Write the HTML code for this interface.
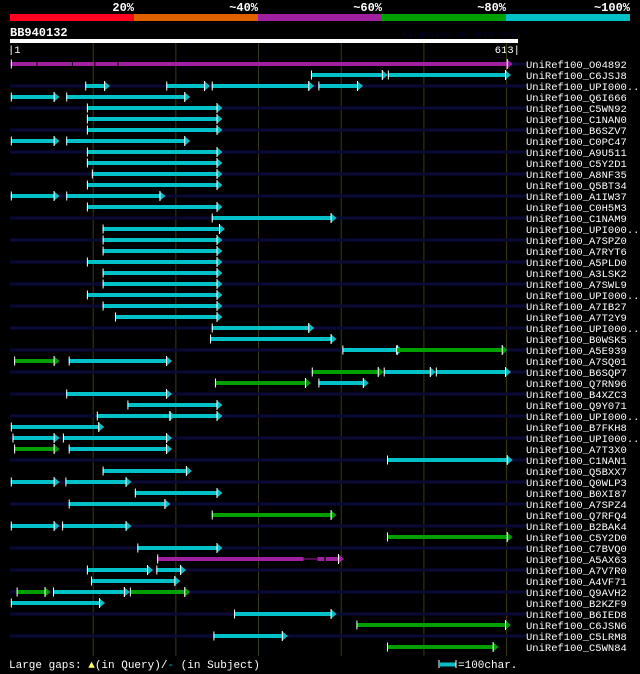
<!DOCTYPE html>
<html><head><meta charset="utf-8"><style>
html,body{margin:0;padding:0;background:#000;}
svg{display:block;}
text{font-family:"Liberation Mono",monospace;}
</style></head><body>
<svg id="chart" width="640" height="674" viewBox="0 0 640 674" xmlns="http://www.w3.org/2000/svg">
<g>
<rect x="10" y="14" width="124" height="7" fill="#ff0020"/>
<rect x="134" y="14" width="124" height="7" fill="#e06000"/>
<rect x="258" y="14" width="124" height="7" fill="#a020a0"/>
<rect x="382" y="14" width="124" height="7" fill="#00a000"/>
<rect x="506" y="14" width="124" height="7" fill="#00c0c8"/>
<g font-size="12" font-weight="bold" fill="#fff" text-anchor="end">
<text x="134" y="11">20%</text>
<text x="258" y="11">~40%</text>
<text x="382" y="11">~60%</text>
<text x="506" y="11">~80%</text>
<text x="630" y="11">~100%</text>
</g></g>
<text x="10" y="36" font-size="12" font-weight="bold" fill="#fff">BB940132</text>
<text x="402" y="37" font-size="9" fill="#000030">AlignView.pm Beta rel.7</text>
<rect x="10" y="39" width="508" height="4" fill="#fff"/>
<text x="8" y="53" font-size="10.5" fill="#fff">|1</text>
<text x="520" y="53" font-size="10.5" fill="#fff" text-anchor="end">613|</text>
<g id="grid"></g>
<g id="rows"></g>
<g id="hits"></g>
<g font-size="11" fill="#fff">
<text x="9" y="668">Large gaps: <tspan fill="#ffff60">▲</tspan>(in Query)/<tspan fill="#00c0c8">-</tspan> (in Subject)</text>
<line x1="439" y1="660" x2="439" y2="668" stroke="#fff"/>
<rect x="439" y="662.5" width="17" height="4" fill="#00c0c8"/>
<line x1="456" y1="660" x2="456" y2="668" stroke="#fff"/>
<text x="458" y="668">=100char.</text>
</g>
</svg>
<script>
const labels = ["O04892","C6JSJ8","UPI000..","Q6I666","C5WN92","C1NAN0","B6SZV7","C0PC47","A9U511","C5Y2D1","A8NF35","Q5BT34","A1IW37","C0H5M3","C1NAM9","UPI000..","A7SPZ0","A7RYT6","A5PLD0","A3LSK2","A7SWL9","UPI000..","A7IB27","A7T2Y9","UPI000..","B0WSK5","A5E939","A7SQ01","B6SQP7","Q7RN96","B4XZC3","Q9Y071","UPI000..","B7FKH8","UPI000..","A7T3X0","C1NAN1","Q5BXX7","Q0WLP3","B0XI87","A7SPZ4","Q7RFQ4","B2BAK4","C5Y2D0","C7BVQ0","A5AX63","A7V7R0","A4VF71","Q9AVH2","B2KZF9","B6IED8","C6JSN6","C5LRM8","C5WN84"];
const hitRow   = [0,1,1,2,2,2,2,3,3,4,5,6,7,7,8,9,10,11,12,12,13,14,15,16,17,18,19,20,21,22,23,24,25,26,26,27,27,28,28,28,29,29,30,31,32,32,33,34,34,35,35,36,37,38,38,39,40,41,42,42,43,44,45,46,46,47,48,48,48,49,50,51,52,53];
const hitStart = [1,364,457,91,189,244,373,1,68,93,93,93,1,68,93,93,99,93,1,68,93,244,112,112,112,93,112,112,93,112,127,244,242,402,467,5,71,365,452,515,248,373,68,142,105,193,1,3,64,5,71,456,112,1,67,151,71,244,1,63,456,154,178,93,177,98,8,52,145,1,271,419,246,456];
const hitEnd   = [608,457,606,121,242,368,427,60,218,257,257,257,60,218,257,257,257,257,60,188,257,395,260,257,257,257,257,257,257,257,257,368,395,475,602,60,196,452,515,606,364,434,196,257,200,257,114,60,196,60,196,608,220,60,147,257,194,395,60,147,608,257,404,173,213,206,49,145,218,115,395,606,336,591];
const hitColor = ["m","c","c","c","c","c","c","c","c","c","c","c","c","c","c","c","c","c","c","c","c","c","c","c","c","c","c","c","c","c","c","c","c","c","g","g","c","g","c","c","g","c","c","c","c","c","c","c","c","g","c","c","c","c","c","c","c","g","c","c","g","c","m","c","c","c","g","c","g","c","c","g","c","g"];
const gapRow   = [0,0,0,0,45,45];
const gapStart = [32,75,102,130,355,380];
const gapEnd   = [33,76,103,131,372,382];
const gridTicks = [100,200,300,400,500,600];

const NS = "http://www.w3.org/2000/svg";
const COL = {c:"#00c0c8", g:"#00a000", m:"#a020a0"};
const xPos = p => 10 + p * 0.8268;
const yPos = r => 64 + r * 11;
function mk(tag, attrs, parent){ const e=document.createElementNS(NS,tag); for(const k in attrs) e.setAttribute(k,attrs[k]); parent.appendChild(e); return e; }
const grid=document.getElementById('grid'), rows=document.getElementById('rows'), hits=document.getElementById('hits');

gridTicks.forEach(t=>{
  const l=mk('line',{x1:xPos(t)+0.5,x2:xPos(t)+0.5,y1:43,y2:656,stroke:'#3a3a10','stroke-width':1},grid);
  
  
});

labels.forEach((lab,i)=>{
  const y=yPos(i);
  if(i%2===0){
    const bg=mk('rect',{x:10,y:y-1.5,width:516,height:3,fill:'#0a0a38'},rows);
    
    
  }
  const t=mk('text',{x:526,y:y+4,'font-size':10.5,fill:'#fff'},rows);
  t.textContent='UniRef100_'+lab;
  
  
});

hitRow.forEach((r,i)=>{
  const y=yPos(r), xs=xPos(hitStart[i]), xe=xPos(hitEnd[i]), col=COL[hitColor[i]];
  const g=mk('g',{},hits);
  
  
  mk('rect',{x:xs,y:y-2,width:Math.max(0,xe-6-xs),height:4,fill:col},g);
  mk('line',{x1:xs+0.5,x2:xs+0.5,y1:y-4.5,y2:y+4.5,stroke:'#fff','stroke-width':1},g);
  mk('polygon',{points:`${xe-6},${y-5} ${xe},${y} ${xe-6},${y+5}`,fill:col},g);
  mk('line',{x1:xe-5.5,x2:xe-5.5,y1:y-5,y2:y+5,stroke:'#fff','stroke-width':1},g);
});

gapRow.forEach((r,i)=>{
  const y=yPos(r), xs=xPos(gapStart[i]), xe=xPos(gapEnd[i]);
  const gp=mk('rect',{x:xs,y:y-2,width:Math.max(1,xe-xs),height:4,fill:'#000'},hits);
  
  
  if(xe-xs>3){
    const ln=mk('rect',{x:xs,y:y-0.5,width:xe-xs,height:1,fill:'#a020a0'},hits);
    
    
  }
});
</script>
</body></html>
